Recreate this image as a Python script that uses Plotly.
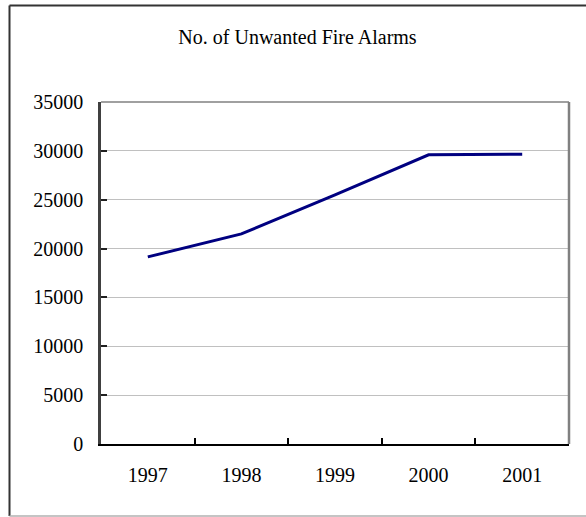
import plotly.graph_objects as go

# Annual counts of unwanted fire alarms
years = ["1997", "1998", "1999", "2000", "2001"]
alarms = [19150, 21500, 25500, 29600, 29650]

y_ticks = [0, 5000, 10000, 15000, 20000, 25000, 30000, 35000]

W, H = 586, 517
ML, MR, MT, MB = 101, 17, 102, 73
PW, PH = W - ML - MR, H - MT - MB

FONT = "'Liberation Serif', 'Times New Roman', Times, serif"


def px_x(px):
    return (px - ML) / PW


def px_y(py):
    return (H - MB - py) / PH


fig = go.Figure()
fig.add_trace(go.Scatter(
    x=years, y=alarms, mode="lines",
    line=dict(color="#000080", width=3),
    hoverinfo="x+y",
))

shapes = [
    # top and right edges of the plotting area
    dict(type="line", xref="paper", yref="paper", x0=0, x1=1, y0=1, y1=1,
         line=dict(color="#808080", width=1.5)),
    dict(type="line", xref="paper", yref="paper", x0=1, x1=1, y0=0, y1=1,
         line=dict(color="#808080", width=2.5)),
    # outer chart frame
    dict(type="line", xref="paper", yref="paper",
         x0=px_x(9.5), x1=px_x(9.5), y0=px_y(5.5), y1=px_y(516),
         line=dict(color="#333333", width=2)),
    dict(type="line", xref="paper", yref="paper",
         x0=px_x(9.5), x1=px_x(600), y0=px_y(5.5), y1=px_y(5.5),
         line=dict(color="#333333", width=2)),
    dict(type="line", xref="paper", yref="paper",
         x0=px_x(9.5), x1=px_x(600), y0=px_y(516), y1=px_y(516),
         line=dict(color="#b0b0b0", width=1.5)),
]

fig.update_layout(
    width=W, height=H,
    margin=dict(l=ML, r=MR, t=MT, b=MB),
    paper_bgcolor="white", plot_bgcolor="white",
    showlegend=False,
    font=dict(family=FONT, size=20, color="black"),
    title=dict(
        text="No. of Unwanted Fire Alarms",
        font=dict(family=FONT, size=20, color="black"),
        xref="container", yref="container",
        x=297.5 / W, y=1 - 37 / H, xanchor="center", yanchor="middle",
    ),
    xaxis=dict(
        type="category", range=[-0.5, 4.5],
        tickson="boundaries", ticks="inside", ticklen=6, tickwidth=1.5,
        tickcolor="black",
        showline=True, linecolor="black", linewidth=2,
        showgrid=False, zeroline=False,
        ticklabelstandoff=12,
        tickfont=dict(family=FONT, size=20, color="black"),
    ),
    yaxis=dict(
        range=[0, 35000], tickvals=y_ticks,
        ticktext=[str(v) for v in y_ticks],
        ticks="inside", ticklen=6, tickwidth=1.5, tickcolor="#202020",
        showline=True, linecolor="#404040", linewidth=2.5,
        showgrid=True, gridcolor="#c0c0c0", gridwidth=1,
        zeroline=False,
        ticklabelstandoff=11,
        tickfont=dict(family=FONT, size=20, color="black"),
    ),
    shapes=shapes,
)

fig.write_html("out.html")
